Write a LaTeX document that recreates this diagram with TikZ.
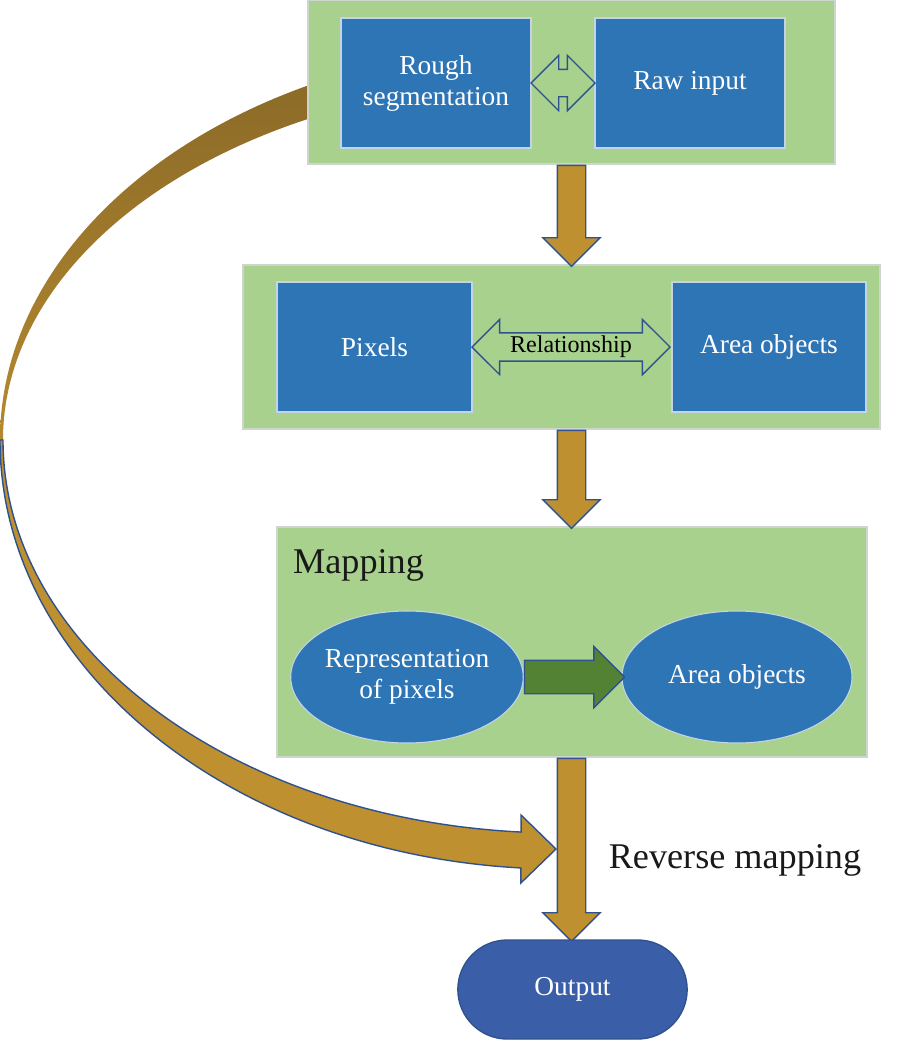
\documentclass[tikz,border=0pt]{standalone}
\usepackage{fontspec}
\setmainfont{Liberation Serif}
\usetikzlibrary{shapes.geometric,shapes.arrows,shapes.misc,calc}

\definecolor{panelgreen}{RGB}{169,209,142}
\definecolor{paneledge}{RGB}{206,212,206}
\definecolor{boxblue}{RGB}{46,117,182}
\definecolor{boxedge}{RGB}{196,212,230}
\definecolor{edgeblue}{RGB}{47,82,143}
\definecolor{arrowgold}{RGB}{191,144,48}
\definecolor{arcbrown}{RGB}{138,106,40}
\definecolor{mapgreen}{RGB}{84,130,53}
\definecolor{outblue}{RGB}{59,94,168}

\tikzset{
    panel/.style={rectangle, draw=paneledge, line width=0.8pt, fill=panelgreen, minimum height=3.28cm},
    bluebox/.style={rectangle, draw=boxedge, line width=0.6pt, fill=boxblue, minimum width=3.8cm, minimum height=2.6cm, text=white, align=center, font=\fontsize{15.6}{17.6}\selectfont},
    blueoval/.style={bluebox, ellipse, minimum width=4.6cm, minimum height=2.64cm, inner sep=0pt},
    downarrow/.style={single arrow, draw=edgeblue, line width=0.8pt, fill=arrowgold, rotate=-90, anchor=tail, minimum width=1.12cm, single arrow head extend=0.29cm, inner xsep=0pt, inner ysep=0.27cm},
    twoway/.style={double arrow, draw=edgeblue, line width=0.8pt, fill=panelgreen, inner xsep=0pt, minimum width=1.08cm, double arrow head extend=0.27cm},
    bigtext/.style={font=\fontsize{20.6}{24}\selectfont, text=black!90}
}

\begin{document}
\begin{tikzpicture}
        \useasboundingbox (0,0) rectangle (18.02,-20.8);

        % Back part of the curved arrow (runs behind the top panel)
        \coordinate (arc) at (11.2,-8.8);
        \shade[top color=arcbrown, bottom color=arrowgold!80!arcbrown]
            ($(arc)+(110:11.2 and 7.94)$) arc[start angle=110, end angle=180, x radius=11.2, y radius=7.94]
            -- ($(arc)+(180:11.14 and 7.2)$) arc[start angle=180, end angle=110, x radius=11.14, y radius=7.2] -- cycle;

        % Panels
        \node[panel, minimum width=10.54cm] (segpanel) at (11.43,-1.64) {};
        \node[panel, minimum width=12.74cm] (relpanel) at (11.23,-6.94) {};
        \node[panel, minimum width=11.8cm, minimum height=4.6cm] (mappanel) at (11.44,-12.84) {};

        % Top row
        \node[bluebox] (rough) at (8.72,-1.66) {Rough\\segmentation};
        \node[bluebox] (raw) at (13.8,-1.66) {Raw input};
        \node[twoway, inner ysep=0.26cm, minimum height=1.28cm, double arrow head extend=0.28cm] (swap) at (11.26,-1.66) {};

        % Middle row
        \node[bluebox, minimum width=3.9cm] (pixels) at (7.49,-6.94) {Pixels};
        \node[bluebox, minimum width=3.88cm] (areabox) at (15.38,-6.94) {Area objects};
        \node[twoway, inner ysep=0.05cm, minimum height=3.96cm, minimum width=1.06cm, font=\fontsize{13.7}{16}\selectfont] (relation) at (11.42,-6.94) {Relationship};

        % Mapping
        \node[bigtext, anchor=west] (maptitle) at (5.74,-11.3) {Mapping};
        \node[blueoval] (reppix) at (8.14,-13.54) {Representation\\of pixels};
        \node[blueoval] (areaoval) at (14.74,-13.54) {Area objects};
        \node[single arrow, draw=edgeblue, line width=0.8pt, fill=mapgreen, anchor=tail, inner xsep=0pt, inner ysep=0.32cm, minimum width=1.2cm, single arrow head extend=0.28cm, minimum height=2.0cm] (maparrow) at (reppix.east) {};

        % Down arrows
        \node[downarrow, minimum height=2.02cm] (down1) at (segpanel.south) {};
        \node[downarrow, minimum height=1.96cm] (down2) at (segpanel.south |- relpanel.south) {};
        \node[downarrow, minimum height=3.66cm] (down3) at (segpanel.south |- mappanel.south) {};

        % Output
        \node[rounded rectangle, draw=edgeblue, line width=0.8pt, fill=outblue, minimum width=4.82cm, minimum height=1.98cm, text=white, font=\fontsize{15.6}{18}\selectfont] (output) at (11.45,-19.79) {Output};
        \node[bigtext] (revtitle) at (14.7,-17.2) {Reverse mapping};

        % Front part of the curved arrow
        \draw[draw=edgeblue, line width=0.8pt, fill=arrowgold]
            ($(arc)+(180:11.2 and 8.58)$) arc[start angle=180, end angle=266, x radius=11.2, y radius=8.58]
            -- ++(0,-0.3) -- (11.12,-16.98) -- (10.42,-16.3) -- ($(arc)+(266:11.14 and 7.86)$)
            arc[start angle=266, end angle=180, x radius=11.14, y radius=7.86] -- cycle;
\end{tikzpicture}
\end{document}
